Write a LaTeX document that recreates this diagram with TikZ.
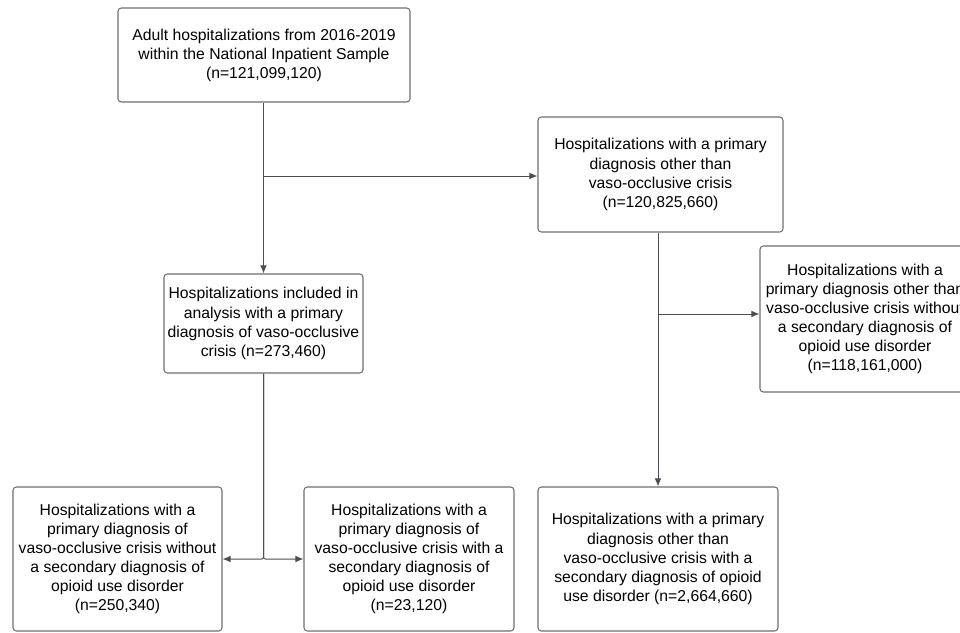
\documentclass[tikz,border=0pt]{standalone}
\usepackage{fontspec}
\setmainfont{Liberation Sans}
\usetikzlibrary{arrows.meta}
\definecolor{boxgray}{HTML}{707070}
\definecolor{linegray}{HTML}{4A4F57}
\begin{document}
\begin{tikzpicture}[x=0.75pt,y=-0.75pt,
  box/.style={draw=boxgray, line width=0.8pt, rounded corners=2.5pt, align=center,
    font=\fontsize{11.8}{14.3}\selectfont, inner sep=0pt, text=black},
  arr/.style={draw=linegray, line width=0.75pt, -{Latex[length=6pt,width=5pt]}}]
\useasboundingbox (0,0) rectangle (960,632);
\clip (0,0) rectangle (960,632);
\fill[white] (0,0) rectangle (960,632);

\node[box, minimum width=219pt, minimum height=70.5pt] (top) at (264,55)
  {Adult hospitalizations from 2016-2019\\within the National Inpatient Sample\\(n=121,099,120)};
\node[box, minimum width=183.75pt, minimum height=86.25pt] (rt) at (660.5,174.5)
  {Hospitalizations with a primary\\diagnosis other than\\vaso-occlusive crisis\\(n=120,825,660)};
\node[box, minimum width=157.5pt, minimum height=109.5pt] (fr) at (865,319)
  {Hospitalizations with a\\primary diagnosis other than\\vaso-occlusive crisis without\\a secondary diagnosis of\\opioid use disorder\\(n=118,161,000)};
\node[box, minimum width=149.25pt, minimum height=74.25pt] (mid) at (263.5,323.5)
  {Hospitalizations included in\\analysis with a primary\\diagnosis of vaso-occlusive\\crisis (n=273,460)};
\node[box, minimum width=156.75pt, minimum height=108pt] (bl) at (117.5,559)
  {Hospitalizations with a\\primary diagnosis of\\vaso-occlusive crisis without\\a secondary diagnosis of\\opioid use disorder\\(n=250,340)};
\node[box, minimum width=157.5pt, minimum height=108pt] (bm) at (409,559)
  {Hospitalizations with a\\primary diagnosis of\\vaso-occlusive crisis with a\\secondary diagnosis of\\opioid use disorder\\(n=23,120)};
\node[box, minimum width=180pt, minimum height=108pt] (br) at (658,559)
  {Hospitalizations with a primary\\diagnosis other than\\vaso-occlusive crisis with a\\secondary diagnosis of opioid\\use disorder (n=2,664,660)};

\coordinate (j1) at (263.5,176);
\coordinate (j2) at (658,314);

\draw[arr] (top.south -| mid.north) -- (mid.north);
\draw[arr] (j1) -- (j1 -| rt.west);
\draw[arr] (br.north |- rt.south) -- (br.north);
\draw[arr] (j2) -- (j2 -| fr.west);
\draw[arr, rounded corners=1.5pt] (mid.south) |- (bl.east);
\draw[arr, rounded corners=1.5pt] (mid.south) |- (bm.west);
\end{tikzpicture}
\end{document}
